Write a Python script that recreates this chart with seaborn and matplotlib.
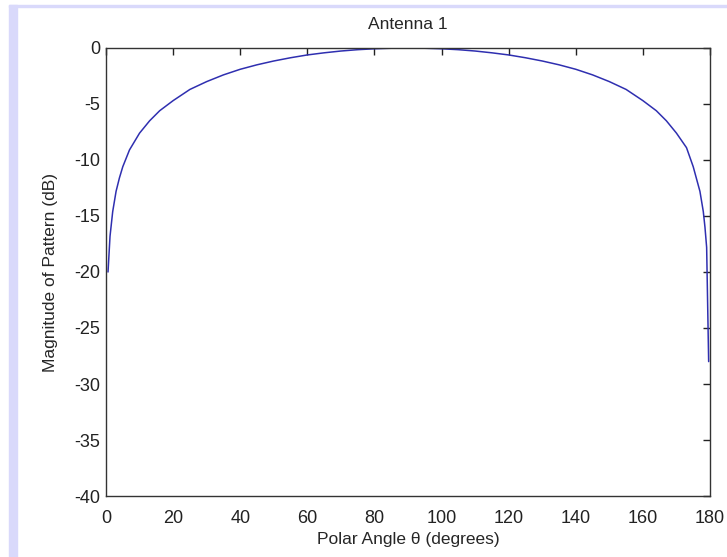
import pandas as pd
import matplotlib.pyplot as plt
import seaborn as sns
from matplotlib.patches import Rectangle

# Data
theta_deg = [0.6, 1.2, 2, 3, 4, 5, 7, 10, 13, 16, 20, 25, 30, 35, 40, 45, 50, 55,
             60, 65, 70, 75, 80, 85, 90, 95, 100, 105, 110, 115, 120, 125, 130,
             135, 140, 145, 150, 155, 160, 164, 167, 170, 173, 175, 177, 178,
             178.5, 179.0, 179.6]
pattern_db = [-20.0, -16.8, -14.6, -12.8, -11.6, -10.6, -9.1, -7.6, -6.5, -5.6,
              -4.7, -3.7, -3.0, -2.4, -1.9, -1.5, -1.16, -0.87, -0.62, -0.43,
              -0.27, -0.15, -0.07, -0.02, 0.0, -0.02, -0.07, -0.15, -0.27, -0.43,
              -0.62, -0.87, -1.16, -1.5, -1.9, -2.4, -3.0, -3.7, -4.7, -5.6,
              -6.5, -7.6, -8.9, -10.6, -12.8, -14.6, -16.0, -17.8, -28.0]
x_ticks = [0, 20, 40, 60, 80, 100, 120, 140, 160, 180]
y_ticks = [-40, -35, -30, -25, -20, -15, -10, -5, 0]

df = pd.DataFrame({'theta': theta_deg, 'db': pattern_db})

sns.set_style('white')
plt.rcParams['font.family'] = ['Liberation Sans', 'DejaVu Sans']
plt.rcParams['axes.unicode_minus'] = False

fig = plt.figure(figsize=(7.27, 5.57), dpi=100)
# lavender frame strips of the screenshot
fig.patches.append(Rectangle((9 / 727, 0), 8 / 727, 1 - 5 / 557, transform=fig.transFigure,
                             color='#d9d9fb', zorder=0))
fig.patches.append(Rectangle((9 / 727, 1 - 7 / 557), 1, 2 / 557, transform=fig.transFigure,
                             color='#d9d9fb', zorder=0))

ax = fig.add_axes([106 / 727, 1 - 496 / 557, 604 / 727, 448 / 557])
sns.lineplot(data=df, x='theta', y='db', ax=ax, color='#2f2fb0', linewidth=1.1,
             estimator=None, sort=False)

ax.set_xlim(0, 180)
ax.set_ylim(-40, 0)
ax.set_xticks(x_ticks)
ax.set_yticks(y_ticks)
ax.tick_params(direction='in', length=5, width=1, top=True, right=True,
               labelsize=13, colors='#222222', pad=4)
ax.tick_params(axis='x', pad=10)
for s in ax.spines.values():
    s.set_color('#333333')
    s.set_linewidth(1)

ax.set_title('Antenna 1', fontsize=12.5, pad=14)
ax.set_xlabel('Polar Angle θ (degrees)', fontsize=12.5, labelpad=4)
ax.set_ylabel('Magnitude of Pattern (dB)', fontsize=12.5, labelpad=12)

plt.savefig('out.png', dpi=100)
